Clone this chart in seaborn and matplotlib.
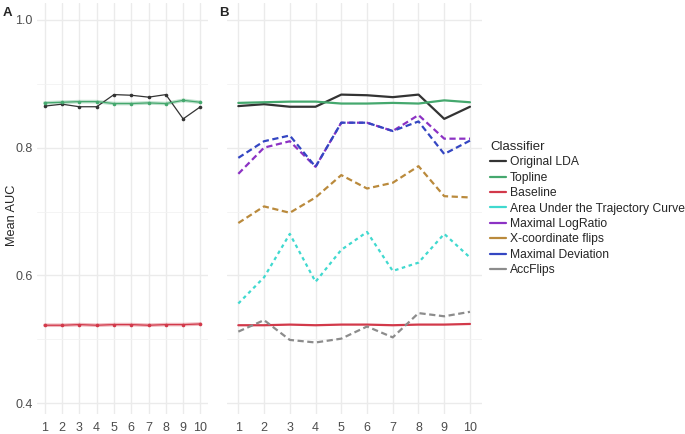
import pandas as pd
import matplotlib.pyplot as plt
from matplotlib.lines import Line2D
from matplotlib.ticker import MultipleLocator
import seaborn as sns

# --- Datos ---
ITERACIONES = list(range(1, 11))

original_lda = [0.865, 0.868, 0.864, 0.864, 0.883, 0.882, 0.879, 0.883, 0.845, 0.864]
topline = [0.870, 0.871, 0.872, 0.872, 0.869, 0.869, 0.870, 0.869, 0.874, 0.871]
baseline = [0.522, 0.522, 0.523, 0.522, 0.523, 0.523, 0.522, 0.523, 0.523, 0.524]
autc = [0.556, 0.597, 0.665, 0.590, 0.640, 0.668, 0.607, 0.620, 0.665, 0.628]
max_logratio = [0.759, 0.800, 0.810, 0.770, 0.839, 0.839, 0.826, 0.851, 0.814, 0.814]
x_flips = [0.682, 0.708, 0.698, 0.722, 0.757, 0.736, 0.745, 0.771, 0.724, 0.722]
max_deviation = [0.784, 0.810, 0.819, 0.770, 0.839, 0.839, 0.826, 0.841, 0.790, 0.811]
acc_flips = [0.512, 0.530, 0.499, 0.495, 0.501, 0.520, 0.503, 0.541, 0.536, 0.543]

CLASIFICADORES = ['Original LDA', 'Topline', 'Baseline', 'Area Under the Trajectory Curve',
                  'Maximal LogRatio', 'X-coordinate flips', 'Maximal Deviation', 'AccFlips']
VALORES = [original_lda, topline, baseline, autc, max_logratio, x_flips, max_deviation, acc_flips]
COLORES = ['#333333', '#45A86E', '#D2394A', '#40D9CF', '#8C32C4', '#BA8A3C', '#3446C2', '#8C8C8C']
TRAZOS = ['', '', '', (1.6, 1.6), (2.8, 1.6), (2.8, 1.6), (2.8, 1.6), (2.8, 1.6)]

filas = []
for nombre, vals in zip(CLASIFICADORES, VALORES):
    for it, v in zip(ITERACIONES, vals):
        filas.append({'Iteracion': it, 'AUC': v, 'Classifier': nombre})
df = pd.DataFrame(filas)

paleta = dict(zip(CLASIFICADORES, COLORES))
trazos = dict(zip(CLASIFICADORES, TRAZOS))

sns.set_theme(style='whitegrid')
plt.rcParams['font.family'] = ['Liberation Sans', 'DejaVu Sans']

fig = plt.figure(figsize=(6.85, 4.34), dpi=100)
ax_a = fig.add_axes([0.054, 0.046, 0.250, 0.948])
ax_b = fig.add_axes([0.331, 0.046, 0.372, 0.948])

# Panel A: solo LDA original, topline y baseline
df_a = df[df['Classifier'].isin(['Original LDA', 'Topline', 'Baseline'])]
for nombre in ['Topline', 'Baseline']:
    sub = df_a[df_a['Classifier'] == nombre]
    sns.lineplot(data=sub, x='Iteracion', y='AUC', color=paleta[nombre], alpha=0.35,
                 linewidth=2.6, ax=ax_a, legend=False)
sns.lineplot(data=df_a, x='Iteracion', y='AUC', hue='Classifier', palette=paleta,
             linewidth=0.9, marker='o', markersize=2.6, markeredgewidth=0,
             ax=ax_a, legend=False)

# Panel B: todos los clasificadores
sns.lineplot(data=df, x='Iteracion', y='AUC', hue='Classifier', style='Classifier',
             palette=paleta, dashes=trazos, linewidth=1.6, ax=ax_b, legend=False)

for ax in (ax_a, ax_b):
    ax.set_xlim(0.55, 10.45)
    ax.set_ylim(0.383, 1.027)
    ax.set_xticks(ITERACIONES)
    ax.set_yticks([0.4, 0.6, 0.8, 1.0])
    ax.yaxis.set_minor_locator(MultipleLocator(0.1))
    ax.grid(True, which='major', color='#EBEBEB', linewidth=1.0)
    ax.grid(True, which='minor', axis='y', color='#F2F2F2', linewidth=0.6)
    ax.set_facecolor('white')
    for s in ax.spines.values():
        s.set_visible(False)
    ax.tick_params(axis='both', which='both', length=0, labelsize=9, labelcolor='#4D4D4D')
    ax.tick_params(axis='x', pad=6)
    ax.tick_params(axis='y', pad=3)
    ax.set_xlabel('')
    ax.set_ylabel('')

ax_a.set_yticklabels(['0.4', '0.6', '0.8', '1.0'])
ax_b.set_yticklabels([])

fig.text(0.018, 0.505, 'Mean AUC', fontsize=9.2, rotation=90, ha='center', va='center')
fig.text(0.004, 0.985, 'A', fontsize=9.5, fontweight='bold', va='top')
fig.text(0.320, 0.985, 'B', fontsize=9.5, fontweight='bold', va='top')

# Leyenda con claves sólidas
handles = [Line2D([0], [0], color=c, linewidth=1.6) for c in COLORES]
fig.legend(handles, CLASIFICADORES, title='Classifier', loc='upper left',
           bbox_to_anchor=(0.709, 0.686), frameon=False, fontsize=8.7,
           title_fontsize=9.5, handlelength=1.3, handletextpad=0.3,
           labelspacing=0.28, alignment='left', borderaxespad=0)

fig.savefig('out.png', dpi=100)
